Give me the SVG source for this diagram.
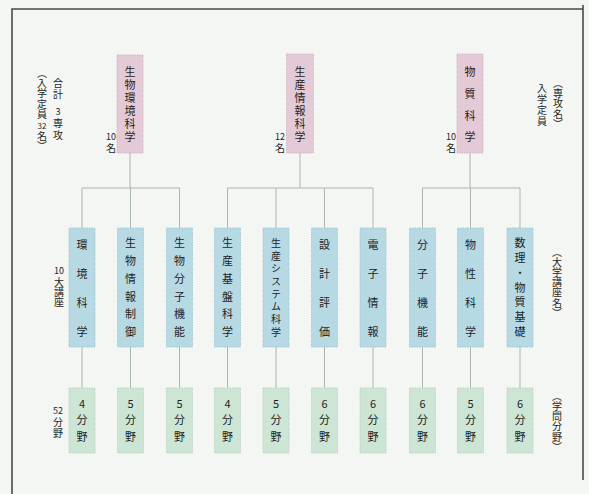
<svg xmlns="http://www.w3.org/2000/svg" width="589" height="494" viewBox="0 0 589 494">
<style>
text{font-family:"Noto Sans CJK JP","Noto Sans",sans-serif;fill:#1e1e1e;text-anchor:middle;dominant-baseline:central}
.v{writing-mode:vertical-rl;text-anchor:start}
.n{font-size:11px}
.s{font-size:10px}
.lb{font-size:10px}
.d{font-size:9px}
.pk{fill:#e3cad6;stroke:#c9aebb;stroke-width:0.8;stroke-dasharray:1.5 1}
.bl{fill:#b7d9e4;stroke:#9cc0cc;stroke-width:0.8;stroke-dasharray:1.5 1}
.gr{fill:#cde5d4;stroke:#b2cdb9;stroke-width:0.8;stroke-dasharray:1.5 1}
.c{stroke:#a9b6b2;stroke-width:1;fill:none}
.frame{stroke:#4a4a4a;stroke-width:1.6;fill:none}
</style>
<rect width="589" height="494" fill="#f3f6f2"/>
<g id="frame">
<path class="frame" d="M12,494 V9 H583"/>
<path class="frame" d="M583,5 V480"/>
</g>
<g id="connectors">
<path class="c" d="M130,153 V188 M82,188 H179.5 M82,188 V228 M130.5,188 V228 M179.5,188 V228"/>
<path class="c" d="M300,153 V188 M227.5,188 H373 M227.5,188 V228 M276,188 V228 M324.5,188 V228 M373,188 V228"/>
<path class="c" d="M470,153 V188 M422.5,188 H520 M422.5,188 V228 M470.5,188 V228 M520,188 V228"/>
<path class="c" d="M82,347 V388 M130.5,347 V388 M179.5,347 V388 M227.5,347 V388 M276,347 V388 M324.5,347 V388 M373,347 V388 M422.5,347 V388 M470.5,347 V388 M520,347 V388"/>
</g>
<g id="labels-left">
<text class="lb v" x="58" y="78" style="letter-spacing:1px">合計</text>
<text class="d" x="58" y="111">3</text>
<text class="lb v" x="58" y="118.5" style="letter-spacing:1.5px">専攻</text>
<text class="lb v" x="42" y="68" style="letter-spacing:0.25px">（入学定員</text>
<text class="d" x="42" y="125" style="font-size:8px">32</text>
<text class="lb v" x="42" y="131">名）</text>
<text class="d" x="59" y="270">10</text>
<text class="lb v" x="59" y="277">大講座</text>
<text class="d" x="58" y="410">52</text>
<text class="lb v" x="58" y="417" style="letter-spacing:1px">分野</text>
</g>
<g id="labels-right">
<text class="lb v" x="558" y="78" style="letter-spacing:0.25px">（専攻名）</text>
<text class="lb v" x="542" y="83" style="letter-spacing:1px">入学定員</text>
<text class="lb v" x="557" y="247" style="letter-spacing:0.17px">（大学講座名）</text>
<text class="lb v" x="557" y="391" style="letter-spacing:0.2px">（学問分野）</text>
</g>
<g id="major-1">
<rect class="pk" x="117" y="55" width="26" height="98"/>
<text class="n v" x="130" y="66.5" style="letter-spacing:2px">生物環境科学</text>
<text class="d" x="111" y="136">10</text><text class="lb v" x="111" y="143">名</text>
</g>
<g id="major-2">
<rect class="pk" x="286.5" y="54" width="27" height="99"/>
<text class="n v" x="300" y="66.5" style="letter-spacing:2px">生産情報科学</text>
<text class="d" x="280" y="136">12</text><text class="lb v" x="280" y="143">名</text>
</g>
<g id="major-3">
<rect class="pk" x="457" y="54" width="26" height="99"/>
<text class="n v" x="470" y="66.5" style="letter-spacing:10.67px">物質科学</text>
<text class="d" x="451" y="136">10</text><text class="lb v" x="451" y="143">名</text>
</g>
<g id="chair-1"><rect class="bl" x="69" y="228" width="26" height="119"/><text class="n v" x="82" y="239.5" style="letter-spacing:18px">環境科学</text></g>
<g id="chair-2"><rect class="bl" x="117.5" y="228" width="26" height="119"/><text class="n v" x="130.5" y="237.5" style="letter-spacing:6.8px">生物情報制御</text></g>
<g id="chair-3"><rect class="bl" x="166.5" y="228" width="26" height="119"/><text class="n v" x="179.5" y="237.5" style="letter-spacing:6.8px">生物分子機能</text></g>
<g id="chair-4"><rect class="bl" x="214.5" y="228" width="26" height="119"/><text class="n v" x="227.5" y="237.5" style="letter-spacing:6.8px">生産基盤科学</text></g>
<g id="chair-5"><rect class="bl" x="263" y="228" width="26" height="119"/><text class="s v" x="276" y="238" style="letter-spacing:2.71px">生産システム科学</text></g>
<g id="chair-6"><rect class="bl" x="311.5" y="228" width="26" height="119"/><text class="n v" x="324.5" y="239.5" style="letter-spacing:18px">設計評価</text></g>
<g id="chair-7"><rect class="bl" x="360" y="228" width="26" height="119"/><text class="n v" x="373" y="239.5" style="letter-spacing:18px">電子情報</text></g>
<g id="chair-8"><rect class="bl" x="409.5" y="228" width="26" height="119"/><text class="n v" x="422.5" y="239.5" style="letter-spacing:18px">分子機能</text></g>
<g id="chair-9"><rect class="bl" x="457.5" y="228" width="26" height="119"/><text class="n v" x="470.5" y="239.5" style="letter-spacing:18px">物性科学</text></g>
<g id="chair-10"><rect class="bl" x="507" y="228" width="26" height="119"/><text class="n v" x="520" y="237.5" style="letter-spacing:3.83px">数理・物質基礎</text></g>
<g id="field-1"><rect class="gr" x="69" y="388" width="26" height="65"/><text class="n" x="82" y="403">4</text><text class="n v" x="82" y="414.5" style="letter-spacing:6px">分野</text></g>
<g id="field-2"><rect class="gr" x="117.5" y="388" width="26" height="65"/><text class="n" x="130.5" y="403">5</text><text class="n v" x="130.5" y="414.5" style="letter-spacing:6px">分野</text></g>
<g id="field-3"><rect class="gr" x="166.5" y="388" width="26" height="65"/><text class="n" x="179.5" y="403">5</text><text class="n v" x="179.5" y="414.5" style="letter-spacing:6px">分野</text></g>
<g id="field-4"><rect class="gr" x="214.5" y="388" width="26" height="65"/><text class="n" x="227.5" y="403">4</text><text class="n v" x="227.5" y="414.5" style="letter-spacing:6px">分野</text></g>
<g id="field-5"><rect class="gr" x="263" y="388" width="26" height="65"/><text class="n" x="276" y="403">5</text><text class="n v" x="276" y="414.5" style="letter-spacing:6px">分野</text></g>
<g id="field-6"><rect class="gr" x="311.5" y="388" width="26" height="65"/><text class="n" x="324.5" y="403">6</text><text class="n v" x="324.5" y="414.5" style="letter-spacing:6px">分野</text></g>
<g id="field-7"><rect class="gr" x="360" y="388" width="26" height="65"/><text class="n" x="373" y="403">6</text><text class="n v" x="373" y="414.5" style="letter-spacing:6px">分野</text></g>
<g id="field-8"><rect class="gr" x="409.5" y="388" width="26" height="65"/><text class="n" x="422.5" y="403">6</text><text class="n v" x="422.5" y="414.5" style="letter-spacing:6px">分野</text></g>
<g id="field-9"><rect class="gr" x="457.5" y="388" width="26" height="65"/><text class="n" x="470.5" y="403">5</text><text class="n v" x="470.5" y="414.5" style="letter-spacing:6px">分野</text></g>
<g id="field-10"><rect class="gr" x="507" y="388" width="26" height="65"/><text class="n" x="520" y="403">6</text><text class="n v" x="520" y="414.5" style="letter-spacing:6px">分野</text></g>
</svg>
